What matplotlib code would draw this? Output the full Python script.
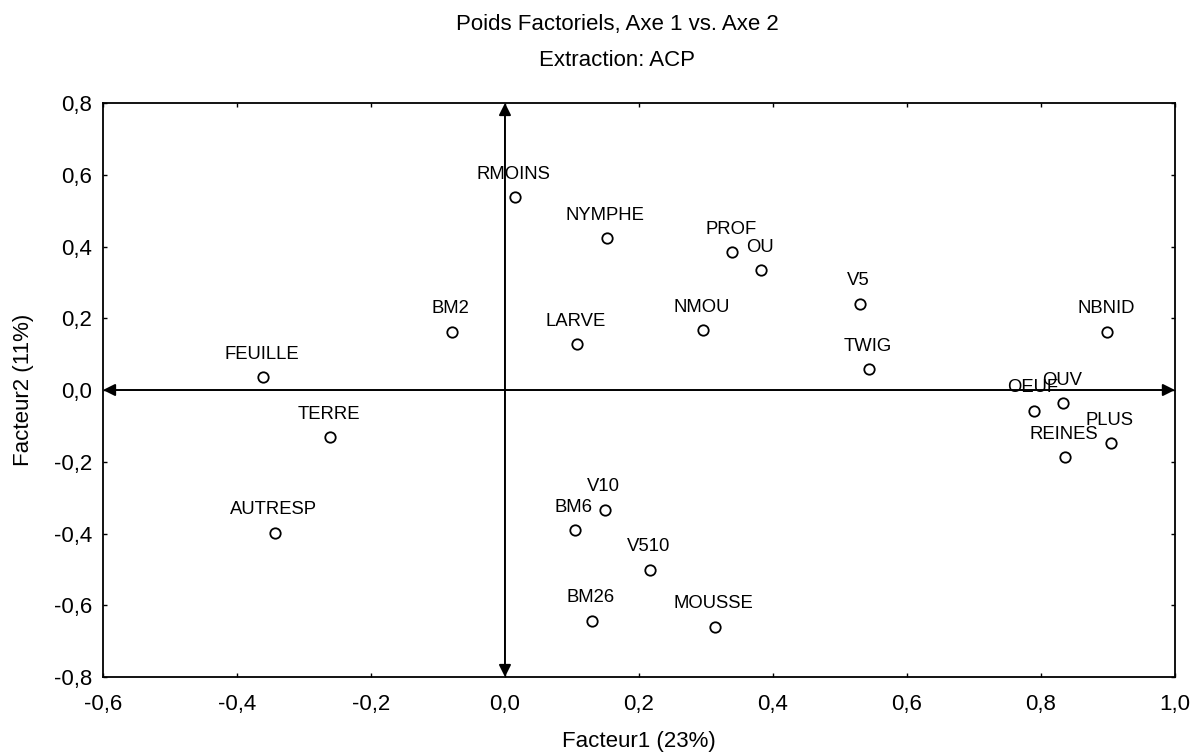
import matplotlib.pyplot as plt
from matplotlib.ticker import FuncFormatter, MultipleLocator

plt.rcParams['font.family'] = ['Liberation Sans', 'DejaVu Sans']

names = ["RMOINS", "NYMPHE", "PROF", "OU", "V5", "NBNID", "BM2", "LARVE", "NMOU",
         "TWIG", "FEUILLE", "OEUF", "OUV", "PLUS", "REINES", "TERRE", "AUTRESP",
         "V10", "BM6", "V510", "BM26", "MOUSSE"]
fact1 = [0.015, 0.152, 0.339, 0.382, 0.530, 0.899, -0.079, 0.107, 0.296,
         0.543, -0.361, 0.790, 0.833, 0.904, 0.836, -0.261, -0.343,
         0.149, 0.104, 0.216, 0.130, 0.313]
fact2 = [0.538, 0.423, 0.384, 0.334, 0.240, 0.162, 0.162, 0.128, 0.167,
         0.058, 0.036, -0.058, -0.036, -0.148, -0.187, -0.131, -0.398,
         -0.334, -0.390, -0.501, -0.643, -0.660]

fig = plt.figure(figsize=(11.92, 7.54), dpi=100)
ax = fig.add_axes([0.0864, 0.1021, 0.8993, 0.7613])

ax.plot(fact1, fact2, 'o', mfc='white', mec='black', ms=7.5, mew=1.3, zorder=3)
for n, x, y in zip(names, fact1, fact2):
    ax.annotate(n, (x, y), xytext=(-1, 16.5), textcoords='offset points',
                ha='center', va='center', fontsize=13.3, zorder=4)

ax.set_xlim(-0.6, 1.0)
ax.set_ylim(-0.8, 0.8)

# double-headed axes through the origin
arrow = dict(arrowstyle='<|-|>', color='black', lw=1.4, mutation_scale=18, shrinkA=0, shrinkB=0)
ax.annotate('', xy=(-0.6, 0), xytext=(1.0, 0), arrowprops=arrow)
ax.annotate('', xy=(0, 0.8), xytext=(0, -0.8), arrowprops=arrow)

ax.xaxis.set_major_locator(MultipleLocator(0.2))
ax.yaxis.set_major_locator(MultipleLocator(0.2))
fmt = FuncFormatter(lambda v, p: f"{v:.1f}".replace('.', ',').replace('-0,0', '0,0'))
ax.xaxis.set_major_formatter(fmt)
ax.yaxis.set_major_formatter(fmt)
ax.tick_params(direction='in', length=3, width=1, top=True, right=True, labelsize=16)
ax.tick_params(axis='x', pad=12)
ax.tick_params(axis='y', pad=8)
for s in ax.spines.values():
    s.set_linewidth(1.3)

ax.set_xlabel("Facteur1 (23%)", fontsize=16, labelpad=12)
ax.set_ylabel("Facteur2 (11%)", fontsize=16, labelpad=14)
fig.text(0.518, 0.968, "Poids Factoriels, Axe 1 vs. Axe 2", ha='center', va='center', fontsize=16)
fig.text(0.518, 0.920, "Extraction: ACP", ha='center', va='center', fontsize=16)

fig.savefig("out.png", dpi=100)
